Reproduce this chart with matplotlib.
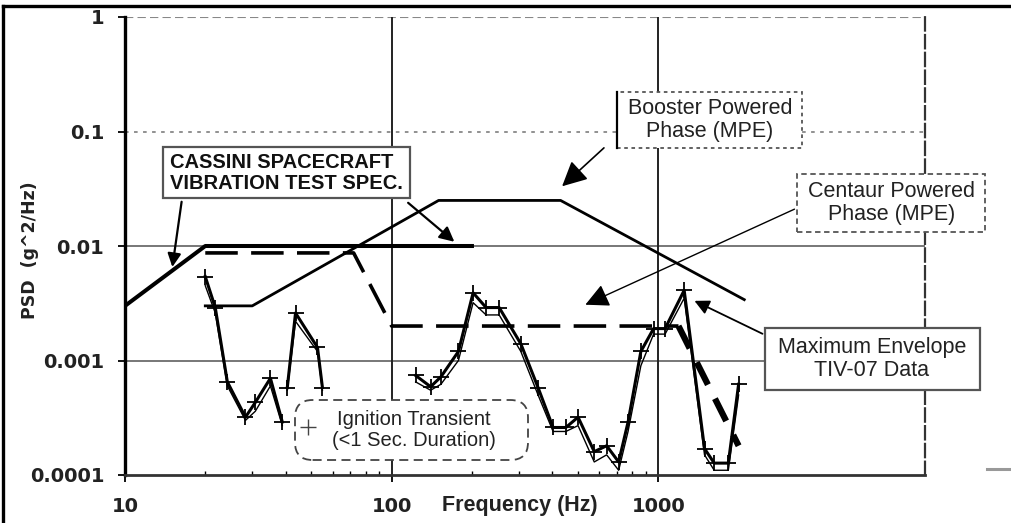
import matplotlib
matplotlib.use("Agg")
import matplotlib.pyplot as plt
from matplotlib.patches import Rectangle, FancyBboxPatch
from matplotlib.lines import Line2D

plt.rcParams['font.family'] = ['Liberation Sans', 'DejaVu Sans']

# spec / MPE curves
cassini_f = [10, 20, 200]
cassini_psd = [0.003, 0.01, 0.01]

booster_f = [20, 30, 150, 430, 2100]
booster_psd = [0.003, 0.003, 0.025, 0.025, 0.0034]

centaur_f = [20, 72, 100, 1000, 1190, 2000]
centaur_psd = [0.0087, 0.0087, 0.002, 0.002, 0.002, 0.00018]

# TIV-07 flight data (max envelope), three pieces
t1_f = [20, 21.8, 24.2, 28.3, 30.8, 35.1, 38.9]
t1_psd = [0.0054, 0.0029, 0.00065, 0.00032, 0.00043, 0.0007, 0.00029]
t2_f = [40.6, 43.6, 52.7, 55]
t2_psd = [0.00058, 0.0026, 0.0013, 0.00058]
t3_f = [123, 140, 153, 178, 202, 226, 253, 305, 354, 403, 450, 500, 575,
        640, 710, 770, 860, 960, 1060, 1250, 1490, 1620, 1830, 2000]
t3_psd = [0.00074, 0.00059, 0.00072, 0.0012, 0.0039, 0.0029, 0.0029, 0.0014,
          0.00058, 0.00026, 0.00026, 0.00032, 0.00016, 0.00018, 0.00013,
          0.00029, 0.0012, 0.0019, 0.0019, 0.0041, 0.00017, 0.000127,
          0.000127, 0.00062]

# second (lower) trace of the data
l1_psd = [0.0045, 0.0026, 0.0006, 0.0003, 0.00036, 0.0006, 0.00027]
l2_psd = [0.00055, 0.0022, 0.0012, 0.00055]
l3_psd = [0.00065, 0.00055, 0.00062, 0.001, 0.0032, 0.0025, 0.0025, 0.0012,
          0.0005, 0.00024, 0.00024, 0.00027, 0.00013, 0.00015, 0.00011,
          0.00024, 0.0009, 0.0017, 0.0017, 0.0035, 0.00015, 0.00011,
          0.00011, 0.0005]

yticks = [0.0001, 0.001, 0.01, 0.1, 1]
ylabels = ['0.0001', '0.001', '0.01', '0.1', '1']
xticks = [10, 100, 1000]
xlabels = ['10', '100', '1000']

fig = plt.figure(figsize=(10.11, 5.23), dpi=100)
ax = fig.add_axes([125/1011, 48/523, 800/1011, 458/523])
ax.set_xscale('log')
ax.set_yscale('log')
ax.set_xlim(10, 10000)
ax.set_ylim(0.0001, 1)

# grid
ax.axhline(0.01, color='#777777', lw=1.4, zorder=1)
ax.axhline(0.001, color='#777777', lw=1.4, zorder=1)
ax.axhline(0.1, color='#888888', lw=1.3, ls=(0, (2, 3)), zorder=1)
ax.axhline(1, color='#888888', lw=1.5, ls=(0, (4, 2)), zorder=1)
ax.axvline(100, color='#222222', lw=1.4, zorder=1)
ax.axvline(1000, color='#222222', lw=1.4, zorder=1)

ax.spines['top'].set_visible(False)
ax.spines['left'].set_linewidth(2.4)
ax.spines['bottom'].set_linewidth(2.0)
ax.spines['bottom'].set_color('#333333')
ax.spines['right'].set_linewidth(1.6)
ax.spines['right'].set_linestyle((0, (6, 2)))
ax.spines['right'].set_color('#333333')

ax.set_yticks(yticks)
ax.set_yticklabels(ylabels)
ax.set_xticks(xticks)
ax.set_xticklabels(xlabels)
ax.minorticks_off()
ax.set_xticks([20, 30, 40, 50, 60, 70, 80, 90, 200, 300, 400, 500, 600, 700,
               800, 900], minor=True)
ax.tick_params(axis='x', which='minor', direction='in', length=3, width=1, labelbottom=False)
ax.tick_params(axis='both', which='major', direction='out', length=5, width=1.3)
ax.tick_params(axis='y', pad=10)
ax.tick_params(axis='x', pad=11)
for lab in ax.get_xticklabels() + ax.get_yticklabels():
    lab.set_family(['DejaVu Sans'])
    lab.set_fontweight('bold')
    lab.set_fontsize(14)
    lab.set_color('#222222')

ax.set_xlabel('Frequency (Hz)', fontweight='bold', fontsize=15.5, color='#222222')
ax.xaxis.set_label_coords(0.494, -0.066)
ax.xaxis.label.set_va('center')
ax.set_ylabel('PSD  (g^2/Hz)', family=['DejaVu Sans'], fontweight='bold',
              fontsize=12.5, color='#222222')
ax.yaxis.set_label_coords(-0.119, 0.49)
ax.yaxis.label.set_va('center')

# curves
ax.plot(cassini_f, cassini_psd, color='black', lw=2.9, zorder=4)
ax.plot(booster_f, booster_psd, color='black', lw=2.0, zorder=4)
ax.plot(centaur_f[:5], centaur_psd[:5], color='black', lw=2.6, dashes=(9, 3.7), zorder=4)
ax.plot(centaur_f[4:], centaur_psd[4:], color='black', lw=4.5, dashes=(4, 2.5), zorder=4)

for f, p, lo in [(t1_f, t1_psd, l1_psd), (t2_f, t2_psd, l2_psd), (t3_f, t3_psd, l3_psd)]:
    ax.plot(f, lo, color='black', lw=1.0, zorder=5)
    ax.plot(f, p, color='black', lw=2.2, marker='+', ms=11, mew=1.3, zorder=6)


def axf(x, y):
    # reference pixel position -> axes fraction
    return ((x - 125) / 800, (475 - y) / 458)


def box(x0, y0, x1, y1, **kw):
    a, b = axf(x0, y1)
    c, d = axf(x1, y0)
    r = Rectangle((a, b), c - a, d - b, transform=ax.transAxes, fill=True,
                  facecolor='white', clip_on=False, zorder=8, **kw)
    ax.add_patch(r)


def label(x, y, s, **kw):
    ax.text(*axf(x, y), s, transform=ax.transAxes, ha='center', va='center',
            zorder=9, **kw)


# Cassini spec label
box(163, 147, 410, 198, edgecolor='#555555', lw=1.6)
ax.text(*axf(170, 173), 'CASSINI SPACECRAFT\nVIBRATION TEST SPEC.',
        transform=ax.transAxes, ha='left', va='center', zorder=9,
        fontweight='bold', fontsize=14.5, linespacing=1.1, color='#111111')
ax.annotate('', xy=(15, 0.0062), xytext=axf(182, 199), textcoords='axes fraction',
            arrowprops=dict(arrowstyle='-|>', color='black', lw=1.6,
                            mutation_scale=20), zorder=7)
ax.annotate('', xy=(175, 0.0105), xytext=axf(406, 201), textcoords='axes fraction',
            arrowprops=dict(arrowstyle='-|>', color='black', lw=1.6,
                            mutation_scale=22), zorder=7)

# Booster label
box(617, 92, 802, 148, edgecolor='#555555', lw=1.3, ls=(0, (2, 2)))
ax.plot(*zip(axf(617, 92), axf(617, 148)), transform=ax.transAxes, color='black',
        lw=1.6, clip_on=False, zorder=9)
label(710, 120, 'Booster Powered\nPhase (MPE)', fontsize=15.5, linespacing=1.15,
      color='#222222')
ax.annotate('', xy=(428, 0.032), xytext=axf(606, 146), textcoords='axes fraction',
            arrowprops=dict(arrowstyle='-|>', color='black', lw=1.2,
                            mutation_scale=38), zorder=7)

# Centaur label
box(797, 174, 985, 232, edgecolor='#555555', lw=1.3, ls=(0, (3, 2)))
label(892, 203, 'Centaur Powered\nPhase (MPE)', fontsize=15.5, linespacing=1.15,
      color='#222222')
ax.annotate('', xy=(521, 0.0030), xytext=axf(797, 208), textcoords='axes fraction',
            arrowprops=dict(arrowstyle='-|>', color='black', lw=1.0,
                            mutation_scale=36), zorder=7)

# Maximum envelope label
box(765, 328, 980, 390, edgecolor='#555555', lw=1.6)
label(872, 359, 'Maximum Envelope\nTIV-07 Data', fontsize=15.5, linespacing=1.15,
      color='#222222')
ax.annotate('', xy=(1337, 0.0034), xytext=axf(765, 335), textcoords='axes fraction',
            arrowprops=dict(arrowstyle='-|>', color='black', lw=1.3,
                            mutation_scale=22), zorder=7)

# Ignition transient legend box
a, b = axf(295, 460)
c, d = axf(528, 400)
ax.add_patch(FancyBboxPatch((a, b), c - a, d - b,
                            boxstyle='round,pad=0,rounding_size=0.022',
                            mutation_aspect=800/458, transform=ax.transAxes,
                            facecolor='white', edgecolor='#444444', lw=1.3,
                            ls=(0, (5, 3)), clip_on=False, zorder=8))
ax.plot(*axf(308, 427), transform=ax.transAxes, marker='+', ms=11, mew=1.0,
        color='#444444', zorder=9)
label(414, 430, 'Ignition Transient\n(<1 Sec. Duration)', fontsize=14.5,
      linespacing=1.15, color='#222222')

# outer frame of the scanned figure
fig.add_artist(Line2D([3/1011, 3/1011], [0, 1 - 6/523], transform=fig.transFigure,
                      lw=2.4, color='black'))
fig.add_artist(Line2D([3/1011, 1], [1 - 6/523, 1 - 6/523], transform=fig.transFigure,
                      lw=2.4, color='black'))
fig.add_artist(Line2D([987/1011, 1], [1 - 469/523, 1 - 469/523], transform=fig.transFigure,
                      lw=2.2, color='#999999'))

fig.savefig('out.png', dpi=100)
